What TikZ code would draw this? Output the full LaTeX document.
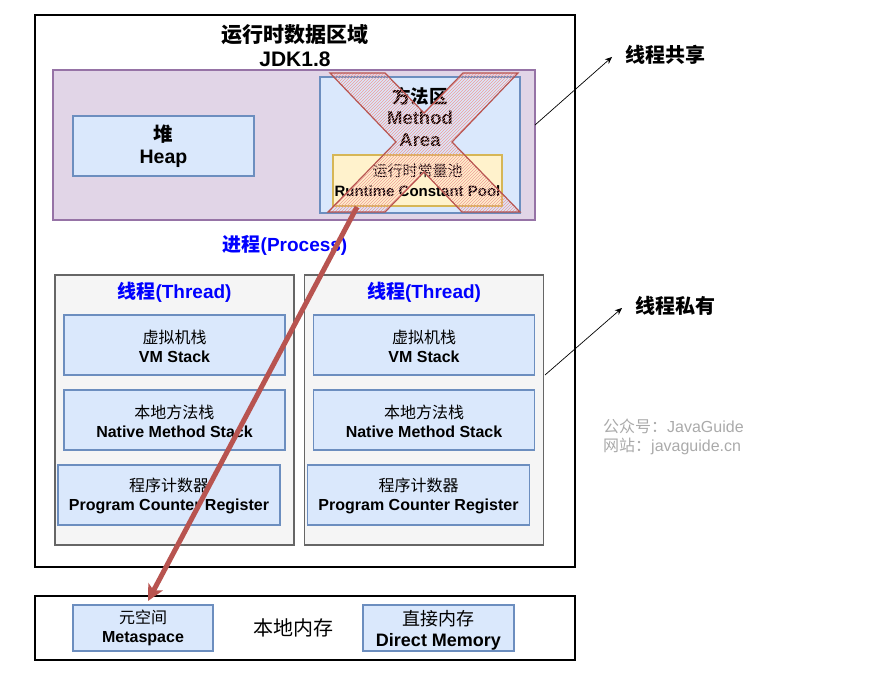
\documentclass[tikz,border=0pt]{standalone}
\usepackage{fontspec}
\setmainfont{Liberation Sans}
\newfontfamily\cjk{Noto Sans CJK SC}
\usetikzlibrary{arrows.meta,patterns}
\definecolor{purpF}{HTML}{E1D5E7}
\definecolor{purpD}{HTML}{9673A6}
\definecolor{blueF}{HTML}{DAE8FC}
\definecolor{blueD}{HTML}{6C8EBF}
\definecolor{yelF}{HTML}{FFF2CC}
\definecolor{yelD}{HTML}{D6B656}
\definecolor{grayF}{HTML}{F5F5F5}
\definecolor{grayD}{HTML}{666666}
\definecolor{redD}{HTML}{B85450}
\definecolor{redP}{HTML}{F19C99}
\definecolor{wm}{HTML}{AAAAAA}
\tikzset{
  box/.style={rectangle, inner sep=0pt, line width=1.8pt},
  bluebox/.style={box, fill=blueF, draw=blueD},
  txt/.style={inner sep=0pt, align=center, font=\bfseries\fontsize{16}{19}\selectfont},
  bigtxt/.style={inner sep=0pt, align=center, font=\bfseries\fontsize{21}{24}\selectfont},
  thin/.style={-{Stealth[length=7pt,width=6pt]}, line width=0.7pt},
}
\begin{document}
\begin{tikzpicture}[x=1pt,y=-1pt]
\useasboundingbox (0,0) rectangle (895,676);
% outer runtime data area
\node[box, draw=black, fill=white, minimum width=540pt, minimum height=552pt] (rt) at (305,291) {};
\node[bigtxt] (title) at (295,46) {{\cjk 运行时数据区域}\\JDK1.8};
% shared area
\node[box, fill=purpF, draw=purpD, minimum width=482pt, minimum height=150pt] (shared) at (294,145) {};
\node[bluebox, minimum width=181pt, minimum height=60pt] (heap) at (163.5,146) {};
\node[inner sep=0pt, align=center, font=\bfseries\fontsize{19.5}{22}\selectfont] (heapt) at (163.5,146) {{\cjk 堆}\\Heap};
\node[bluebox, minimum width=200pt, minimum height=136pt] (method) at (420,145) {};
\node[inner sep=0pt, align=center, font=\bfseries\fontsize{18.5}{21.5}\selectfont] (methodt) at (420,117) {{\cjk 方法区}\\Method\\Area};
\node[box, fill=yelF, draw=yelD, minimum width=169pt, minimum height=51pt] (pool) at (417.5,180.5) {};
\node[inner sep=0pt, align=center, font=\bfseries\fontsize{15}{20}\selectfont] (poolt) at (417.5,180.5) {{\cjk\mdseries 运行时常量池}\\Runtime Constant Pool};
% red cross
\path[draw=redD, line width=1.2pt, pattern=north east lines, pattern color=redP, fill opacity=0.9]
  (330,73) -- (385,73) -- (424,113) -- (463,73) -- (518,73) -- (452,142) -- (520,212)
  -- (462,212) -- (424,172) -- (385,212) -- (328,212) -- (396,142) -- cycle;
% process label
\node[inner sep=0pt, font=\bfseries\fontsize{19}{22}\selectfont, text=blue] (proc) at (285,245) {{\cjk 进程}(Process)};
% threads
\foreach \n/\dx in {L/0,R/249.5}{
  \node[box, fill=grayF, draw=grayD, minimum width=239pt, minimum height=270pt] (th\n) at (174.5+\dx,410) {};
  \node[inner sep=0pt, font=\bfseries\fontsize{19}{22}\selectfont, text=blue] (tht\n) at (174.5+\dx,292) {{\cjk 线程}(Thread)};
  \node[bluebox, minimum width=221pt, minimum height=60pt] (vm\n) at (174.5+\dx,345) {};
  \node[txt] (vmt\n) at (174.5+\dx,346) {{\cjk\mdseries 虚拟机栈}\\VM Stack};
  \node[bluebox, minimum width=221pt, minimum height=60pt] (nm\n) at (174.5+\dx,420) {};
  \node[txt] (nmt\n) at (174.5+\dx,421) {{\cjk\mdseries 本地方法栈}\\Native Method Stack};
  \node[bluebox, minimum width=222pt, minimum height=60pt] (pc\n) at (169+\dx,495) {};
  \node[txt] (pct\n) at (169+\dx,496) {{\cjk\mdseries 程序计数器}\\Program Counter Register};
}
% native memory
\node[box, draw=black, fill=white, minimum width=540pt, minimum height=64pt] (native) at (305,628) {};
\node[bluebox, minimum width=140pt, minimum height=46pt] (meta) at (143,628) {};
\node[inner sep=0pt, align=center, font=\bfseries\fontsize{16}{19}\selectfont] (metat) at (143,628) {{\cjk\mdseries 元空间}\\Metaspace};
\node[inner sep=0pt, font=\fontsize{20}{22}\selectfont\cjk] (nativet) at (293,628) {本地内存};
\node[bluebox, minimum width=151pt, minimum height=46pt] (direct) at (438.5,628) {};
\node[inner sep=0pt, align=center, font=\bfseries\fontsize{18}{21}\selectfont] (directt) at (438.5,630) {{\cjk\mdseries 直接内存}\\Direct Memory};
% red arrow
\coordinate (rs) at (357,207);
\coordinate (rtip) at (148,601);
\draw[draw=redD, line width=5pt, -{Stealth[length=16pt,width=16pt,inset=4pt]}] (rs) -- (rtip);
% side labels
\node[anchor=west, inner sep=0pt, font=\bfseries\fontsize{20}{22}\selectfont\cjk] (share) at (625,55) {线程共享};
\node[anchor=west, inner sep=0pt, font=\bfseries\fontsize{20}{22}\selectfont\cjk] (priv) at (635,306) {线程私有};
\coordinate (sa) at (535,125);
\coordinate (sb) at (612,57);
\coordinate (pa) at (545,375);
\coordinate (pb) at (622,308);
\draw[thin] (sa) -- (sb);
\draw[thin] (pa) -- (pb);
% watermark
\node[anchor=west, inner sep=0pt, text=wm, align=left, font=\fontsize{16}{19}\selectfont] (wmk) at (603,437) {{\cjk 公众号：}JavaGuide\\{\cjk 网站：}javaguide.cn};
\end{tikzpicture}
\end{document}
